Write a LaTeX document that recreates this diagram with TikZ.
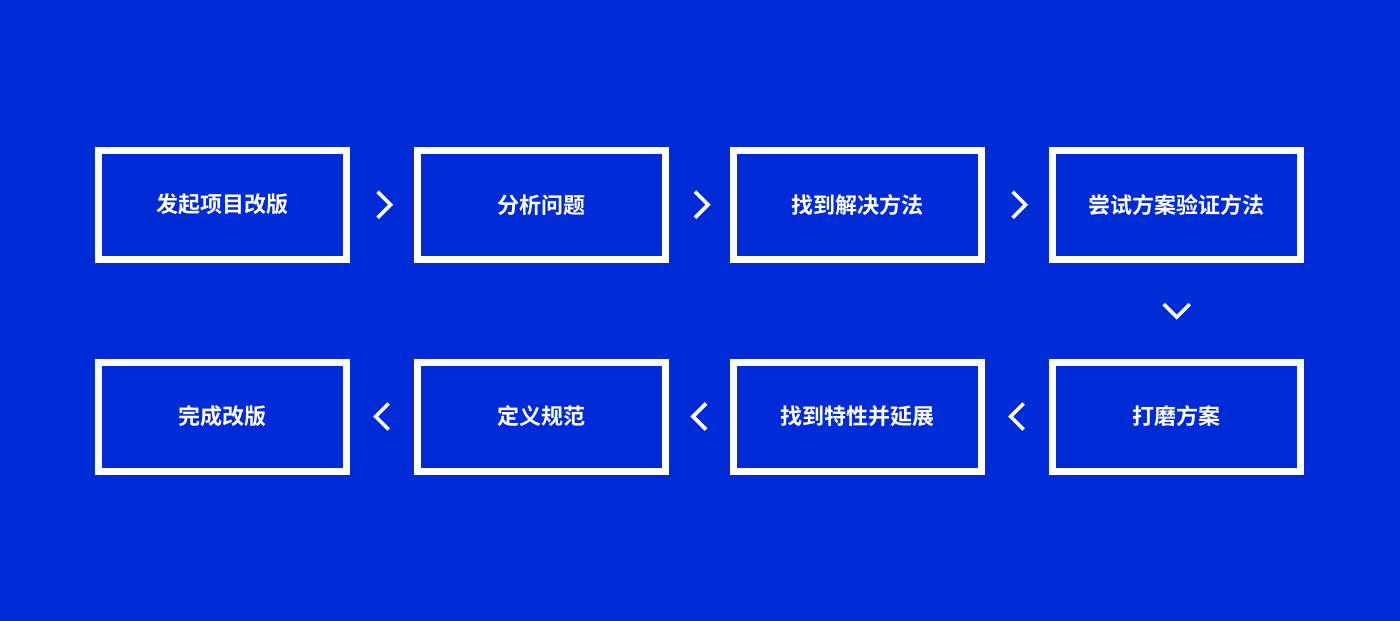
\documentclass[tikz,border=0pt]{standalone}
\usepackage{fontspec}
\newfontfamily\cjk{Noto Sans CJK SC}[BoldFont={Noto Sans CJK SC Bold}]
\usetikzlibrary{calc}
\definecolor{bgblue}{HTML}{002BD7}
\tikzset{
  box/.style={draw=white, line width=7pt, minimum width=248pt, minimum height=109pt,
    inner sep=0pt, text=white, font=\cjk\bfseries\fontsize{22}{24}\selectfont},
  chev/.style={draw=white, line width=3.6pt, line cap=butt, line join=miter}
}
\begin{document}
\begin{tikzpicture}[x=1pt,y=-1pt]
\fill[bgblue] (0,0) rectangle (1400,621);
\useasboundingbox (0,0) rectangle (1400,621);
\node[box] (b1) at (222.8,204.7) {发起项目改版};
\node[box] (b2) at (541.5,204.7) {分析问题};
\node[box] (b3) at (857.5,204.7) {找到解决方法};
\node[box] (b4) at (1176.7,204.7) {尝试方案验证方法};
\node[box] (b5) at (1176.7,416.5) {打磨方案};
\node[box] (b6) at (857.5,416.5) {找到特性并延展};
\node[box] (b7) at (541.5,416.5) {定义规范};
\node[box] (b8) at (222.8,416.5) {完成改版};
% right chevrons
\foreach \a/\b in {b1/b2,b2/b3,b3/b4}{
  \coordinate (m) at ($(\a.east)!0.5!(\b.west)$);
  \draw[chev] ($(m)+(-4.5,-13)$) -- ($(m)+(8.5,0)$) -- ($(m)+(-4.5,13)$);
}
% left chevrons
\foreach \a/\b in {b8/b7,b7/b6,b6/b5}{
  \coordinate (m) at ($(\a.east)!0.5!(\b.west)$);
  \draw[chev] ($(m)+(6.5,-13)$) -- ($(m)+(-6.5,0)$) -- ($(m)+(6.5,13)$);
}
% down chevron
\coordinate (m) at ($(b4.south)!0.5!(b5.north)$);
\draw[chev] ($(m)+(-13,-6.5)$) -- ($(m)+(0,6.5)$) -- ($(m)+(13,-6.5)$);
\end{tikzpicture}
\end{document}
